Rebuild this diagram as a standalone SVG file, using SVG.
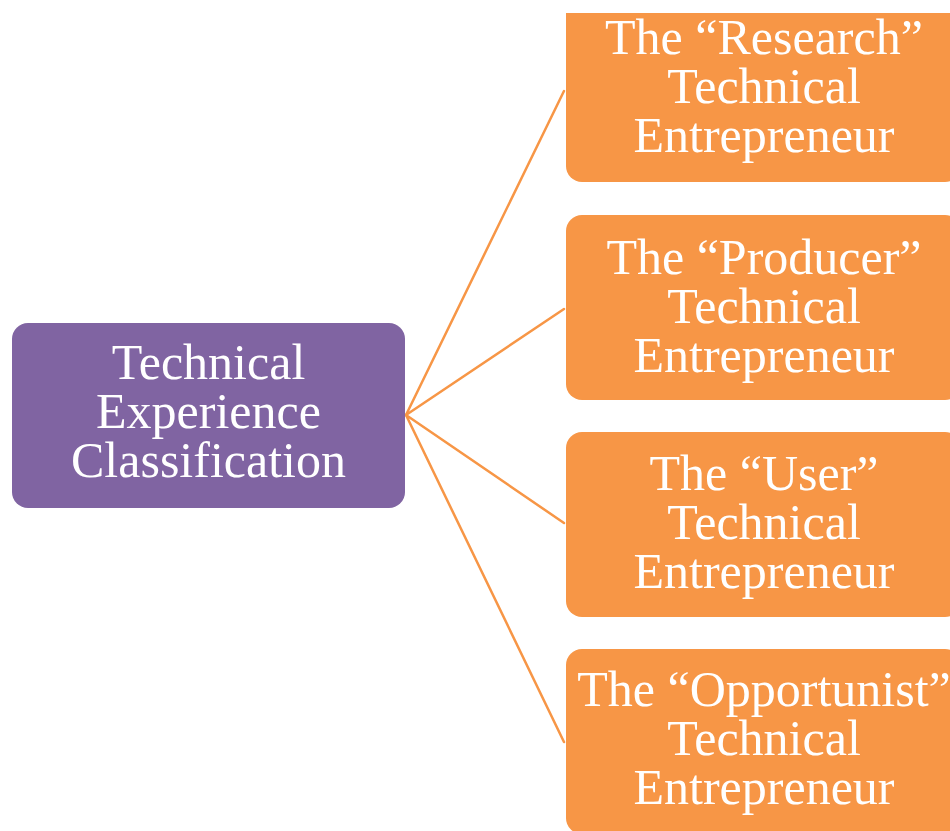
<svg xmlns="http://www.w3.org/2000/svg" width="950" height="831" viewBox="0 0 950 831">
  <style>
    .hub { fill: #8064A2; }
    .leaf { fill: #F79646; }
    .lbl { font-family: "Liberation Serif", "Times New Roman", serif; font-size: 50px; fill: #FFFFFF; text-anchor: middle; }
    .conn { stroke: #F79646; stroke-width: 2.5; fill: none; stroke-linecap: round; }
  </style>
  <rect width="950" height="831" fill="#FFFFFF"/>
  <g id="connectors">
    <line class="conn" x1="406" y1="415" x2="564" y2="91"/>
    <line class="conn" x1="406" y1="415" x2="564" y2="309"/>
    <line class="conn" x1="406" y1="415" x2="564" y2="523"/>
    <line class="conn" x1="406" y1="415" x2="564" y2="742"/>
  </g>
  <g id="node-hub">
    <rect class="hub" x="12" y="323" width="393" height="185" rx="16" ry="16"/>
    <text class="lbl" x="208.5" y="379">Technical</text>
    <text class="lbl" x="208.5" y="428">Experience</text>
    <text class="lbl" x="208.5" y="477">Classification</text>
  </g>
  <g id="node-research">
    <path class="leaf" d="M566,13 H961 V166 a16,16 0 0 1 -16,16 H582 a16,16 0 0 1 -16,-16 Z"/>
    <text class="lbl" x="764" y="54">The “Research”</text>
    <text class="lbl" x="764" y="103">Technical</text>
    <text class="lbl" x="764" y="152">Entrepreneur</text>
  </g>
  <g id="node-producer">
    <rect class="leaf" x="566" y="215" width="395" height="185" rx="16" ry="16"/>
    <text class="lbl" x="764" y="274">The “Producer”</text>
    <text class="lbl" x="764" y="323">Technical</text>
    <text class="lbl" x="764" y="372">Entrepreneur</text>
  </g>
  <g id="node-user">
    <rect class="leaf" x="566" y="432" width="395" height="185" rx="16" ry="16"/>
    <text class="lbl" x="764" y="490">The “User”</text>
    <text class="lbl" x="764" y="539">Technical</text>
    <text class="lbl" x="764" y="588">Entrepreneur</text>
  </g>
  <g id="node-opportunist">
    <rect class="leaf" x="566" y="649" width="395" height="185" rx="16" ry="16"/>
    <text class="lbl" x="764" y="706">The “Opportunist”</text>
    <text class="lbl" x="764" y="755">Technical</text>
    <text class="lbl" x="764" y="804">Entrepreneur</text>
  </g>
</svg>
